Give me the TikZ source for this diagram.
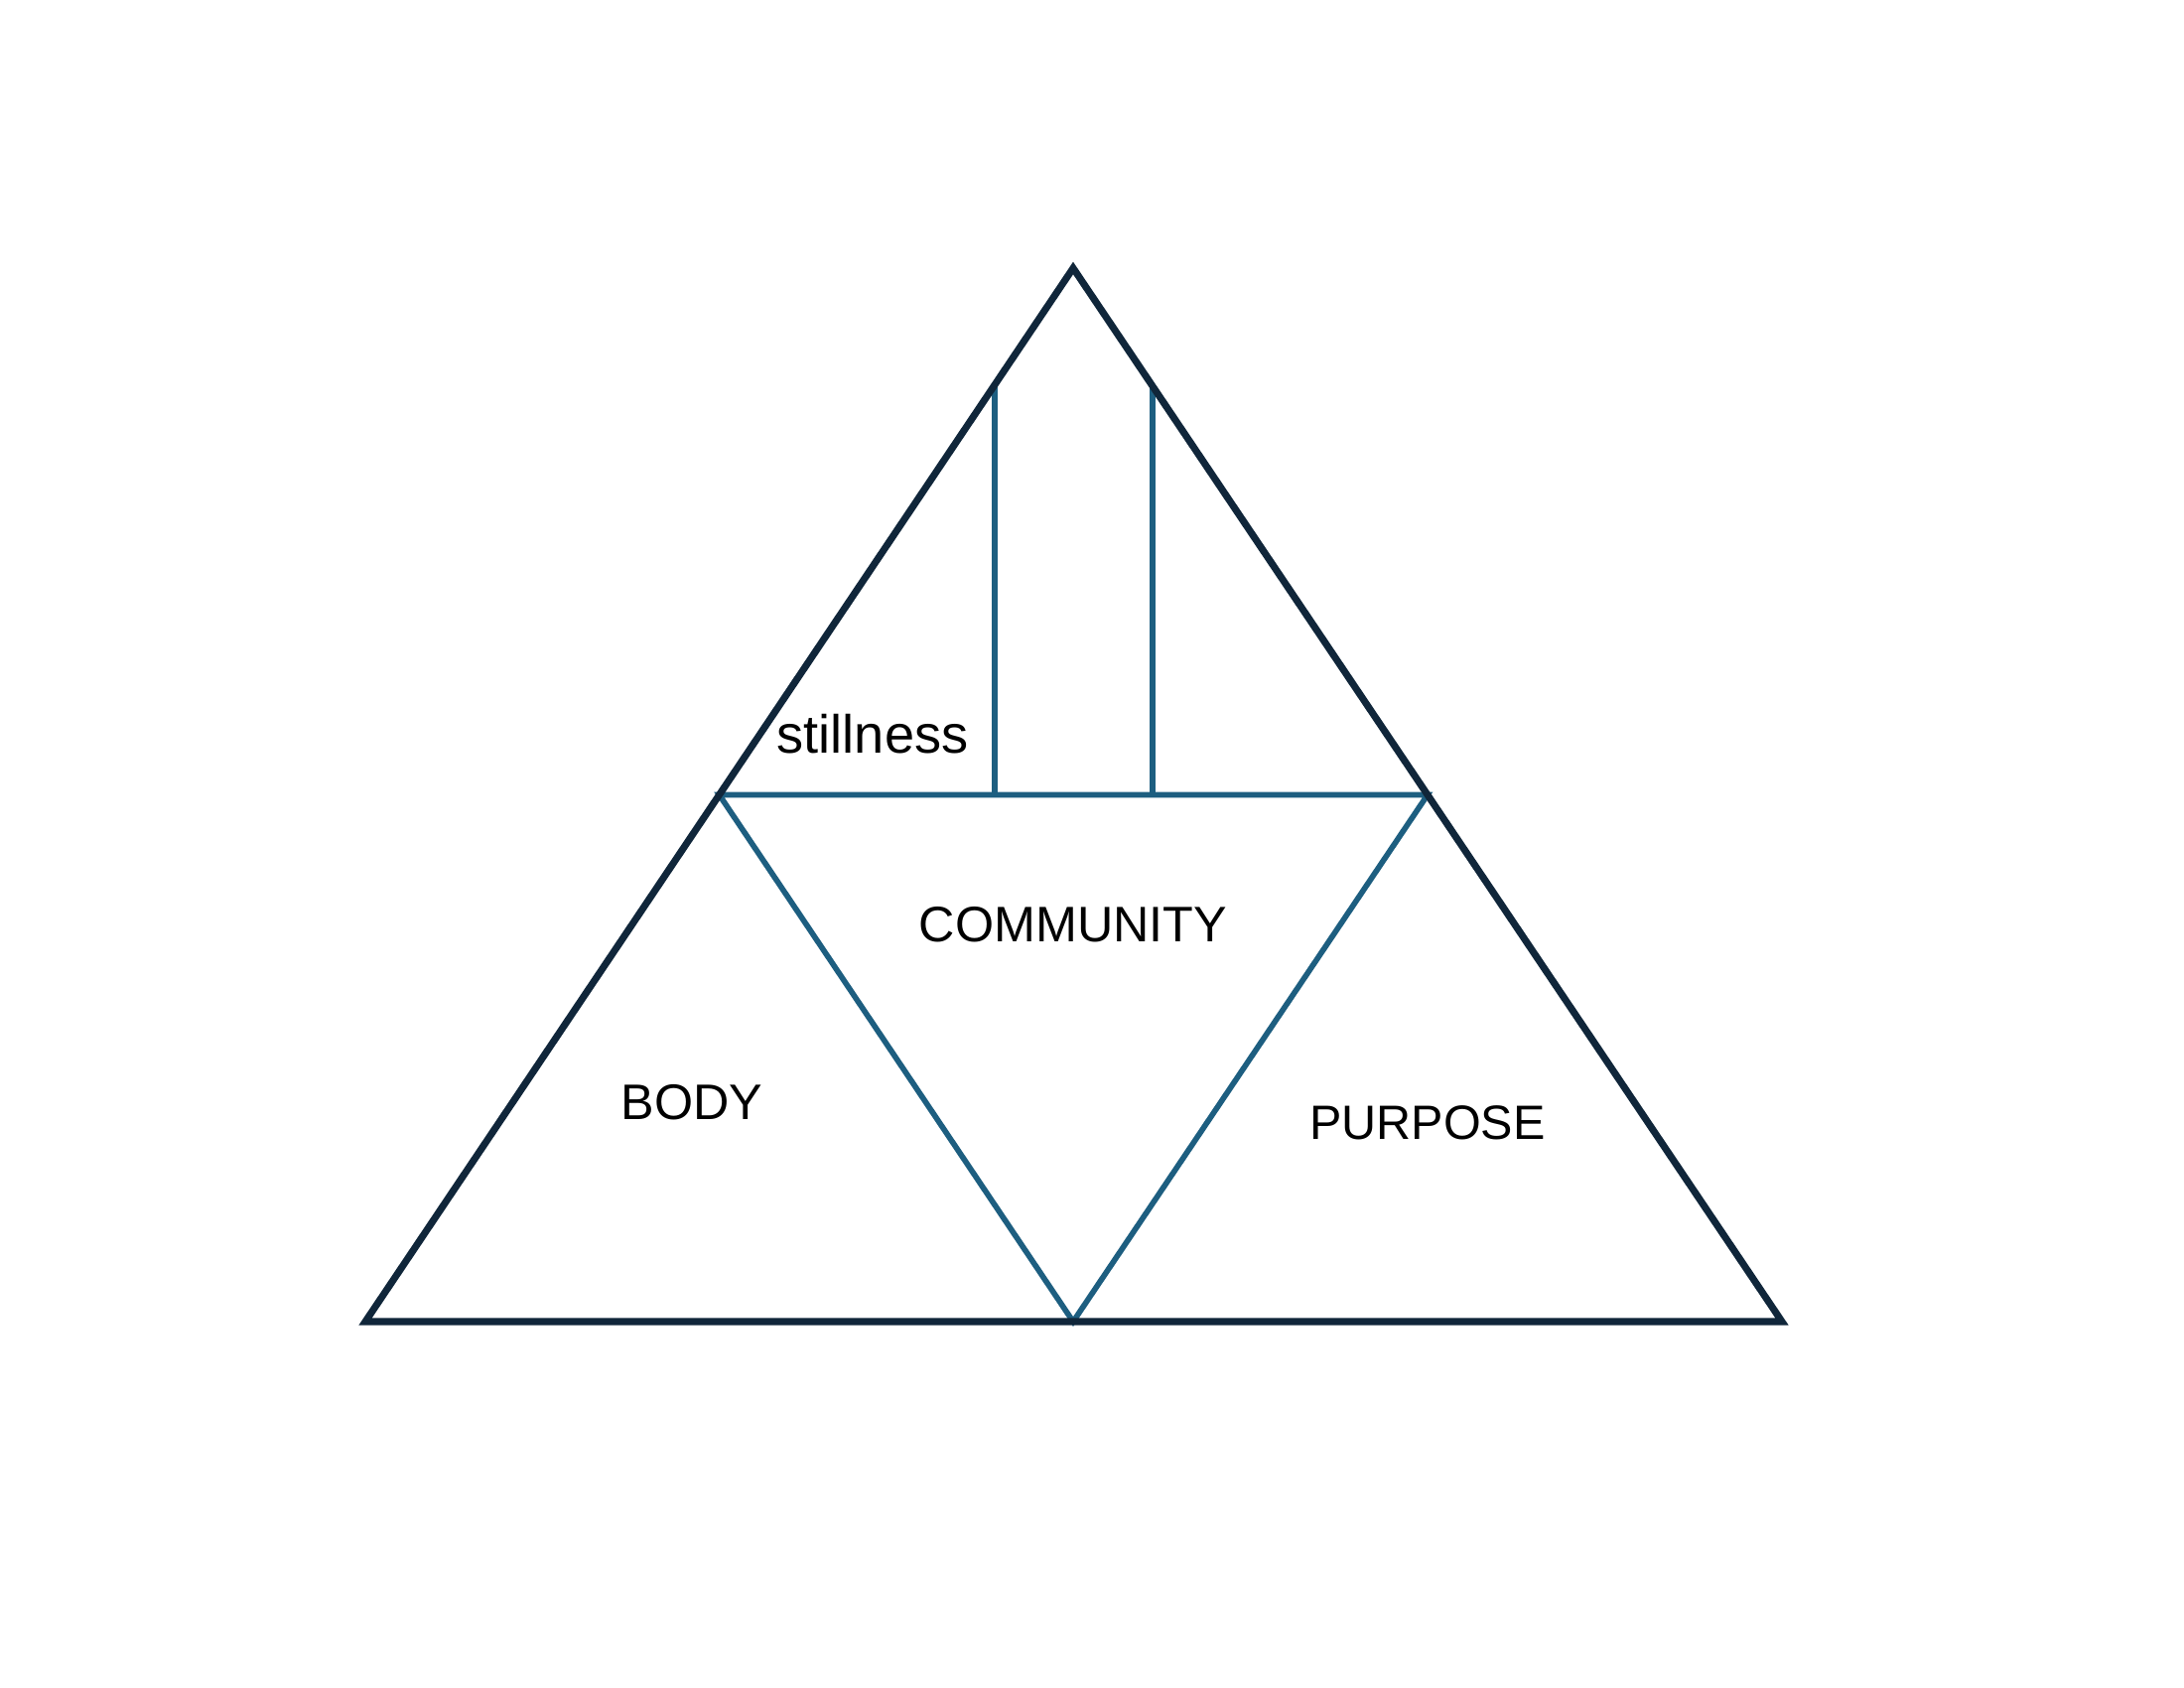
\documentclass[tikz,border=0pt]{standalone}
\usepackage{fontspec}
\setmainfont{Liberation Sans}
\definecolor{outerc}{HTML}{10263A}
\definecolor{innerc}{HTML}{1D5E80}
\begin{document}
\begin{tikzpicture}[x=0.01cm,y=-0.01cm,
  outerline/.style={draw=outerc,line width=2pt,line join=miter},
  innerline/.style={draw=innerc,line width=1.6pt},
  lbl/.style={anchor=base,inner sep=0pt,font=\fontsize{14.3}{16}\selectfont,text=black}]
\useasboundingbox[fill=white] (0,0) rectangle (2200,1700);
\coordinate (A) at (1081,270);
\coordinate (BL) at (368,1331);
\coordinate (BR) at (1795,1331);
\coordinate (ML) at (724.5,800.5);
\coordinate (MR) at (1438,800.5);
\coordinate (MB) at (1081,1331);
\coordinate (V1t) at (1002,387.5);
\coordinate (V1b) at (1002,800.5);
\coordinate (V2t) at (1161,389);
\coordinate (V2b) at (1161,800.5);
\draw[innerline] (V1t) -- (V1b);
\draw[innerline] (V2t) -- (V2b);
\draw[innerline,line join=miter] (ML) -- (MR) -- (MB) -- cycle;
\draw[outerline] (A) -- (BR) -- (BL) -- cycle;
\node[lbl,font=\fontsize{15.4}{17}\selectfont] (still) at (879,758) {stillness};
\node[lbl] (comm) at (1081,948) {COMMUNITY};
\node[lbl] (body) at (697,1127) {BODY};
\node[lbl,font=\fontsize{13.8}{16}\selectfont] (purp) at (1438,1147) {PURPOSE};
\end{tikzpicture}
\end{document}
